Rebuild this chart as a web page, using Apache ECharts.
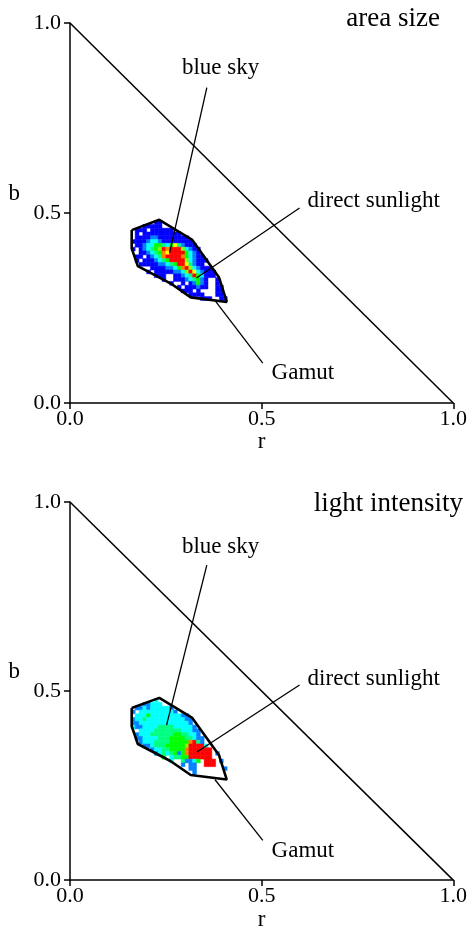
<!DOCTYPE html>
<html><head><meta charset="utf-8">
<script src="https://cdn.jsdelivr.net/npm/echarts@6/dist/echarts.min.js"></script>
<style>html,body{margin:0;padding:0;background:#fff}#c{width:470px;height:932px}</style>
</head><body><div id="c"></div>
<script>
// ---------- data ----------
const panelTitles = ['area size', 'light intensity'];
const axisTickValues = [0.0, 0.5, 1.0];
const cellSize = 0.01;          // r/b width of one histogram cell
const firstColumnR = 0.16;      // r of the first character in each row string
// lower b edge of each row of cells (top to bottom)
const rowB = [0.47,0.46,0.45,0.44,0.43,0.42,0.41,0.40,0.39,0.38,0.37,0.36,0.35,0.34,0.33,0.32,0.31,0.30,0.29,0.28,0.27];
// level per cell, 0 = empty, 1 = blue ... 9 = red (one char per 0.01 of r)
const areaSizeRows = [
  "00000011",
  "00011111",
  "01110111111",
  "0101111111111",
  "011112211111111",
  "1111233211111111",
  "01123355435742111",
  "101234569899963211",
  "001123458799995321",
  "0110123489999853211",
  "01011123459999632111",
  "00111112234599742110",
  "000001111223589632111",
  "0000101111122369732111",
  "00000011100112349531110",
  "00000000100111234521001",
  "00000000001001012521001",
  "000000000000101112110011",
  "000000000000011101000011",
  "000000000000000111100011",
  "0000000000000000001110011"
];
const lightIntensityRows = [
  "0000003",
  "00022333",
  "02232333332",
  "203333333332",
  "033353333333322",
  "2334333333333322",
  "2233333333333332",
  "32233334444333332",
  "003333444444433322",
  "023334444445544332",
  "0223333444555544322",
  "0023334444555558942",
  "00022344455555699993",
  "000002334455558999999",
  "00000023434525899999902",
  "00000000503445599999900",
  "000000000030042235099902",
  "0000000000000202200999",
  "0000000000000002200000002",
  "00000000000000002",
  ""
];
// gamut outline (r, b), closed
const gamutOutline = [[0.161,0.455],[0.233,0.482],[0.319,0.429],[0.389,0.330],[0.409,0.266],[0.315,0.278],[0.262,0.315],[0.177,0.360],[0.161,0.407],[0.161,0.455]];
// spectral locus boundary r + b = 1
const triangleEdge = [[0,1],[1,0]];
// annotations: label text, label anchor (r,b), leader line from / to (r,b)
const labelTexts = ['blue sky', 'direct sunlight', 'Gamut'];
const areaLabelAt = [[0.292,0.882],[0.620,0.533],[0.526,0.080]];
const areaLeaders = [[[0.357,0.830],[0.260,0.395]],[[0.599,0.513],[0.330,0.329]],[[0.378,0.270],[0.503,0.105]]];
const intensityLabelAt = [[0.292,0.882],[0.620,0.532],[0.526,0.076]];
const intensityLeaders = [[[0.357,0.833],[0.252,0.410]],[[0.599,0.516],[0.331,0.339]],[[0.378,0.266],[0.503,0.105]]];

// ---------- build ----------
const FONT = 'Liberation Serif';
function cellsFrom(rows) {
  const out = [];
  rows.forEach((s, k) => {
    for (let i = 0; i < s.length; i++) {
      const v = +s[i];
      if (v > 0) out.push([+(firstColumnR + i * cellSize).toFixed(3), rowB[k], v]);
    }
  });
  return out;
}
function cellItem(params, api) {
  const r = api.value(0), b = api.value(1);
  const p0 = api.coord([r, b + cellSize]);
  const p1 = api.coord([r + cellSize, b]);
  const c = api.visual('color');
  return {type: 'rect', shape: {x: p0[0], y: p0[1], width: p1[0] - p0[0], height: p1[1] - p0[1]},
          style: {fill: c, stroke: c, lineWidth: 0.5}};
}
function labelSeries(idx, at) {
  return {type: 'custom', xAxisIndex: idx, yAxisIndex: idx, data: at, z: 10, silent: true,
    renderItem: (params, api) => {
      const p = api.coord([api.value(0), api.value(1)]);
      return {type: 'text', x: p[0], y: p[1],
        style: {text: labelTexts[params.dataIndex], fontFamily: FONT, fontSize: 23, fill: '#000', align: 'left', verticalAlign: 'middle'}};
    }};
}
function lineSeries(idx, data, width) {
  return {type: 'line', xAxisIndex: idx, yAxisIndex: idx, data: data, symbol: 'none', silent: true, z: 5,
          lineStyle: {color: '#000', width: width}, animation: false};
}
function axisCommon(isY) {
  return {
    type: 'value', min: 0, max: 1, interval: 0.5,
    axisLine: {show: true, onZero: false, lineStyle: {color: '#000', width: 1.5}},
    axisTick: {show: true, length: 6, inside: false, lineStyle: {color: '#000', width: 1.5}},
    splitLine: {show: false},
    axisLabel: {color: '#000', fontFamily: FONT, fontSize: 22, margin: isY ? 9 : 5,
      formatter: v => axisTickValues.includes(v) ? v.toFixed(1) : ''},
    nameLocation: 'middle', nameRotate: 0,
    nameTextStyle: isY ? {color: '#000', fontFamily: FONT, fontSize: 23, verticalAlign: 'bottom', padding: [0, 0, 8, 0]}
                       : {color: '#000', fontFamily: FONT, fontSize: 23},
    nameGap: isY ? 50 : 24
  };
}
const grids = [{left: 70, top: 23, width: 384, height: 380}, {left: 70, top: 502, width: 384, height: 384}];
const xAxes = [0, 1].map(i => Object.assign(axisCommon(false), {gridIndex: i, name: 'r'}));
const yAxes = [0, 1].map(i => Object.assign(axisCommon(true), {gridIndex: i, name: 'b'}));

const series = [
  {type: 'custom', xAxisIndex: 0, yAxisIndex: 0, data: cellsFrom(areaSizeRows), renderItem: cellItem, z: 2, silent: true},
  {type: 'custom', xAxisIndex: 1, yAxisIndex: 1, data: cellsFrom(lightIntensityRows), renderItem: cellItem, z: 2, silent: true},
  lineSeries(0, gamutOutline, 2.6),
  lineSeries(1, gamutOutline, 2.6),
  lineSeries(0, triangleEdge, 1.5),
  lineSeries(1, triangleEdge, 1.5)
];
areaLeaders.forEach(l => series.push(lineSeries(0, l, 1.3)));
intensityLeaders.forEach(l => series.push(lineSeries(1, l, 1.3)));
series.push(labelSeries(0, areaLabelAt));
series.push(labelSeries(1, intensityLabelAt));

const chart = echarts.init(document.getElementById('c'), null, {renderer: 'canvas'});
chart.setOption({
  animation: false,
  backgroundColor: '#fff',
  title: [
    {text: panelTitles[0], right: 25, top: 0, textStyle: {fontFamily: FONT, fontSize: 27, fontWeight: 'normal', color: '#000'}},
    {text: panelTitles[1], right: 2, top: 485, textStyle: {fontFamily: FONT, fontSize: 27, fontWeight: 'normal', color: '#000'}}
  ],
  visualMap: {type: 'continuous', show: false, min: 1, max: 9, dimension: 2, seriesIndex: [0, 1],
    inRange: {color: ['#0000ff', '#00ffff', '#00ff00', '#ffff00', '#ff0000']}},
  grid: grids,
  xAxis: xAxes,
  yAxis: yAxes,
  series: series
});
</script></body></html>
